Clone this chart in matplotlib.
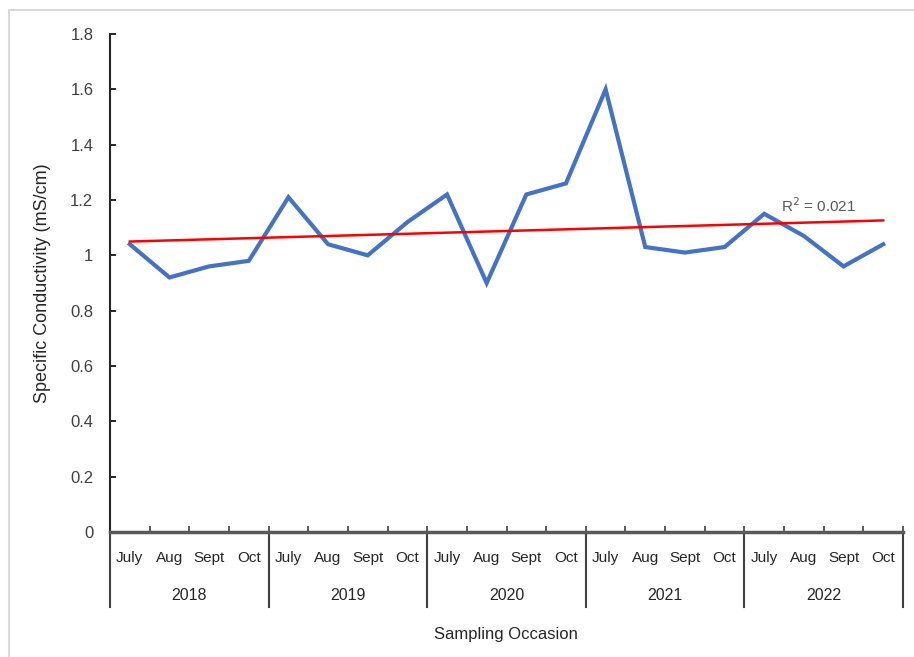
import numpy as np
import matplotlib
matplotlib.use("Agg")
import matplotlib.pyplot as plt
from matplotlib.patches import Rectangle
from matplotlib.transforms import blended_transform_factory

plt.rcParams['font.family'] = ['Liberation Sans Narrow', 'Liberation Sans', 'DejaVu Sans']

years = ["2018", "2019", "2020", "2021", "2022"]
months = ["July", "Aug", "Sept", "Oct"]
conductivity = [1.04, 0.92, 0.96, 0.98,
                1.21, 1.04, 1.00, 1.12,
                1.22, 0.90, 1.22, 1.26,
                1.60, 1.03, 1.01, 1.03,
                1.15, 1.07, 0.96, 1.04]
r2_label = "R$^2$ = 0.021"

n = len(conductivity)
x = np.arange(n)
y = np.array(conductivity)

fig = plt.figure(figsize=(9.14, 6.57), dpi=100)
# light frame around the chart area
fig.patches.append(Rectangle((9 / 914, -0.1), 1.2, 0.1 + (657 - 10) / 657,
                             transform=fig.transFigure, fill=False,
                             edgecolor="#d9d9d9", linewidth=1.5))

ax = fig.add_axes([110 / 914, (657 - 532) / 657, (903 - 110) / 914, (532 - 34) / 657])

ax.plot(x, y, color="#4472C4", linewidth=3.0, solid_joinstyle="miter", zorder=3)

# linear trend line
slope, icpt = np.polyfit(x, y, 1)
ax.plot(x[[0, -1]], icpt + slope * x[[0, -1]], color="#FF0000", linewidth=1.8, zorder=4)
ax.text(16.42, 1.18, r2_label, fontsize=11, color="#595959", ha="left", va="center")

ax.set_xlim(-0.5, n - 0.5)
ax.set_ylim(0, 1.8)
ax.set_yticks(np.arange(0, 1.81, 0.2))
ax.set_yticklabels(["0", "0.2", "0.4", "0.6", "0.8", "1", "1.2", "1.4", "1.6", "1.8"])
ax.tick_params(axis="y", direction="in", length=4, width=1.2, labelsize=12,
               labelcolor="#404040", pad=12)

ax.set_xticks(np.arange(-0.5, n, 1.0))
ax.set_xticklabels([])
ax.tick_params(axis="x", direction="in", length=4, width=1.2, color="#404040")

for s in ["top", "right"]:
    ax.spines[s].set_visible(False)
ax.spines["left"].set_color("#262626")
ax.spines["left"].set_linewidth(1.5)
ax.spines["bottom"].set_color("#595959")
ax.spines["bottom"].set_linewidth(2.5)

trans = blended_transform_factory(ax.transData, ax.transAxes)
px = 1 / (532 - 34)  # one pixel in axes fraction (vertical)
for i in range(n):
    ax.text(i, -26 * px, months[i % 4], transform=trans, ha="center", va="center",
            fontsize=11, color="#262626")
for k, yr in enumerate(years):
    ax.text(4 * k + 1.5, -63 * px, yr, transform=trans, ha="center", va="center",
            fontsize=11.5, color="#262626")
for k in range(len(years) + 1):
    ax.plot([4 * k - 0.5, 4 * k - 0.5], [0, -75 * px], transform=trans, color="#404040",
            linewidth=1.5, clip_on=False)

ax.set_ylabel("Specific Conductivity (mS/cm)", fontsize=13, color="#262626", labelpad=14)
fig.text(506 / 914, 1 - 634 / 657, "Sampling Occasion", ha="center", va="center",
         fontsize=12, color="#262626")

fig.savefig("out.png", dpi=100)
